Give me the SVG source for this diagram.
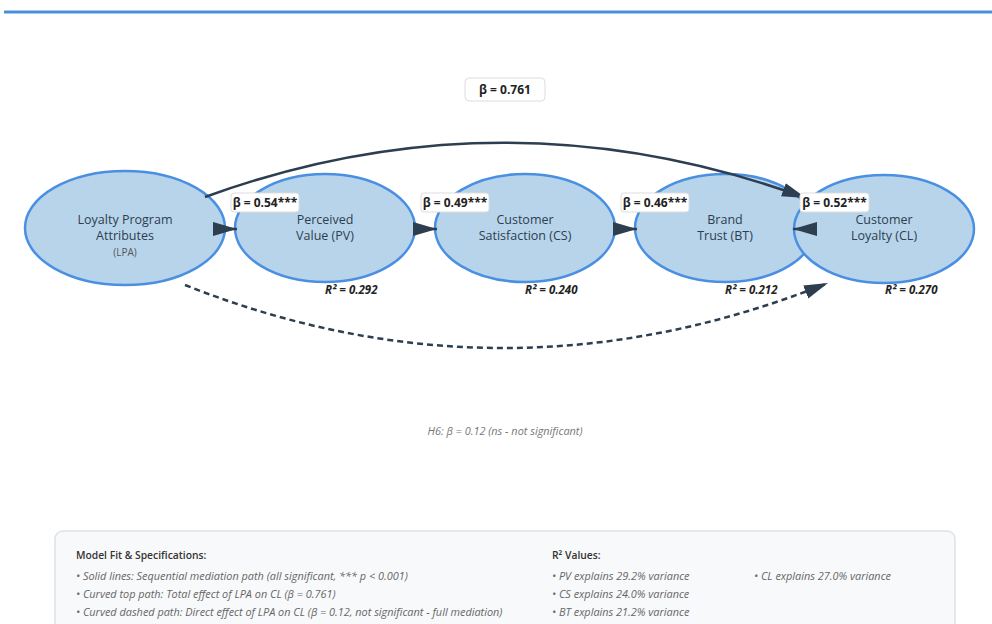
<svg xmlns="http://www.w3.org/2000/svg" width="992" height="624" viewBox="0 0 992 624">
<defs>
<style>
.node{fill:#b8d4ea;stroke:#4a90e2;stroke-width:2.5}
.nt{font-family:"Open Sans","Noto Sans",sans-serif;font-size:12.5px;fill:#2c3e50;text-anchor:middle}
.ns{font-family:"Open Sans","Noto Sans",sans-serif;font-size:10px;fill:#555;text-anchor:middle}
.r2{font-family:"Open Sans","Noto Sans",sans-serif;font-size:11.5px;font-weight:bold;font-style:italic;fill:#222}
.conn{fill:none;stroke:#2c3e50;stroke-width:2.5}
.dash{stroke-dasharray:6 4}
.lbox{fill:#fff;stroke:#ddd;stroke-width:1}
.lt{font-family:"Open Sans","Noto Sans",sans-serif;font-size:12px;font-weight:bold;fill:#222;text-anchor:middle}
.note{font-family:"Open Sans","Noto Sans",sans-serif;font-size:10.9px;font-style:italic;fill:#777;text-anchor:middle}
.hd{font-family:"Open Sans","Noto Sans",sans-serif;font-size:10.3px;font-weight:600;fill:#333}
.bl{font-family:"Open Sans","Noto Sans",sans-serif;font-size:10.9px;font-style:italic;fill:#666}
</style>
<marker id="arr" markerUnits="userSpaceOnUse" markerWidth="24" markerHeight="16" viewBox="0 0 24 16" refX="24" refY="8" orient="auto">
<path d="M0,1 L24,8 L0,15 z" fill="#2c3e50"/>
</marker>
</defs>
<rect width="992" height="624" fill="#fff"/>
<line x1="4" y1="12" x2="992" y2="12" stroke="#4a90d9" stroke-width="3"/>

<g id="node-lpa">
<ellipse class="node" cx="125" cy="228" rx="100" ry="57"/>
<text class="nt" x="125" y="224">Loyalty Program</text>
<text class="nt" x="125" y="240">Attributes</text>
<text class="ns" x="125" y="256">(LPA)</text>
</g>
<g id="node-pv">
<ellipse class="node" cx="325" cy="228" rx="90" ry="54"/>
<text class="nt" x="325" y="224">Perceived</text>
<text class="nt" x="325" y="240">Value (PV)</text>
<text class="r2" x="325" y="294">R² = 0.292</text>
</g>
<g id="node-cs">
<ellipse class="node" cx="525" cy="228" rx="90" ry="54"/>
<text class="nt" x="525" y="224">Customer</text>
<text class="nt" x="525" y="240">Satisfaction (CS)</text>
<text class="r2" x="525" y="294">R² = 0.240</text>
</g>
<g id="node-bt">
<ellipse class="node" cx="725" cy="228" rx="90" ry="54"/>
<text class="nt" x="725" y="224">Brand</text>
<text class="nt" x="725" y="240">Trust (BT)</text>
<text class="r2" x="725" y="294">R² = 0.212</text>
</g>
<g id="node-cl">
<ellipse class="node" cx="884" cy="229" rx="90" ry="54"/>
<text class="nt" x="884" y="224">Customer</text>
<text class="nt" x="884" y="240">Loyalty (CL)</text>
<text class="r2" x="885" y="294">R² = 0.270</text>
</g>

<g id="connectors">
<path class="conn" d="M215,229 L237,229" marker-end="url(#arr)"/>
<path class="conn" d="M415,229 L437,229" marker-end="url(#arr)"/>
<path class="conn" d="M615,229 L637,229" marker-end="url(#arr)"/>
<path class="conn" d="M817,229 L793,229" marker-end="url(#arr)"/>
<path class="conn" d="M205,197 Q505,88 806,198" marker-end="url(#arr)"/>
<path class="conn dash" d="M185,285 Q505,412 828,283" marker-end="url(#arr)"/>
</g>

<g id="labels">
<rect class="lbox" x="231" y="193" width="68" height="19" rx="3"/>
<text class="lt" x="265" y="207">β = 0.54***</text>
<rect class="lbox" x="421" y="193" width="68" height="19" rx="3"/>
<text class="lt" x="455" y="207">β = 0.49***</text>
<rect class="lbox" x="621" y="193" width="68" height="19" rx="3"/>
<text class="lt" x="655" y="207">β = 0.46***</text>
<rect class="lbox" x="800" y="193" width="69" height="19" rx="3"/>
<text class="lt" x="834.5" y="207">β = 0.52***</text>
<rect class="lbox" x="465" y="78" width="80" height="23" rx="4"/>
<text class="lt" x="505" y="94">β = 0.761</text>
<text class="note" x="505" y="435">H6: β = 0.12 (ns - not significant)</text>
</g>

<g id="legend">
<rect x="55" y="531" width="900" height="110" rx="8" fill="#f8f9fa" stroke="#dee2e6" stroke-width="1.5"/>
<text class="hd" x="76" y="559">Model Fit &amp; Specifications:</text>
<text class="bl" x="76" y="580">• Solid lines: Sequential mediation path (all significant, *** p &lt; 0.001)</text>
<text class="bl" x="76" y="598">• Curved top path: Total effect of LPA on CL (β = 0.761)</text>
<text class="bl" x="76" y="616">• Curved dashed path: Direct effect of LPA on CL (β = 0.12, not significant - full mediation)</text>
<text class="hd" x="552" y="559">R² Values:</text>
<text class="bl" x="552" y="580">• PV explains 29.2% variance</text>
<text class="bl" x="552" y="598">• CS explains 24.0% variance</text>
<text class="bl" x="552" y="616">• BT explains 21.2% variance</text>
<text class="bl" x="754" y="580">• CL explains 27.0% variance</text>
</g>
</svg>
